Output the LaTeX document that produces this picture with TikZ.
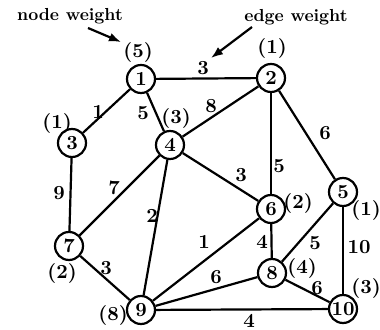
\documentclass[tikz,border=0pt]{standalone}
\usetikzlibrary{arrows.meta}
\begin{document}
\begin{tikzpicture}[x=0.5pt,y=-0.5pt,
  vtx/.style={draw,circle,line width=1.1pt,minimum size=14pt,inner sep=0pt,font=\bfseries},
  wt/.style={font=\bfseries,inner sep=0pt},
  nwt/.style={font=\bfseries,inner sep=0pt},
  captxt/.style={font=\bfseries,inner sep=0pt,scale=0.87},
  edg/.style={line width=1.1pt}]
\useasboundingbox (0,0) rectangle (380,330);
% nodes
\node[vtx] (n1) at (141,79) {1};
\node[vtx] (n2) at (271,78) {2};
\node[vtx] (n3) at (72,143) {3};
\node[vtx] (n4) at (170,145) {4};
\node[vtx] (n5) at (343,192) {5};
\node[vtx] (n6) at (271,209) {6};
\node[vtx] (n7) at (69,246) {7};
\node[vtx] (n8) at (272,273) {8};
\node[vtx] (n9) at (141,310) {9};
\node[vtx] (n10) at (343,309) {10};
% node weights
\node[nwt] (p1) at (138,52) {(5)};
\node[nwt] (p2) at (272,48) {(1)};
\node[nwt] (p3) at (57,123) {(1)};
\node[nwt] (p4) at (176,118) {(3)};
\node[nwt] (p5) at (366,210) {(1)};
\node[nwt] (p6) at (298,203) {(2)};
\node[nwt] (p7) at (62,273) {(2)};
\node[nwt] (p8) at (302,268) {(4)};
\node[nwt] (p9) at (113,315) {(8)};
\node[nwt] (p10) at (366,288) {(3)};
% edges
\draw[edg] (n1) -- (n2);
\draw[edg] (n1) -- (n3);
\draw[edg] (n1) -- (n4);
\draw[edg] (n2) -- (n4);
\draw[edg] (n2) -- (n5);
\draw[edg] (n2) -- (n6);
\draw[edg] (n3) -- (n7);
\draw[edg] (n4) -- (n7);
\draw[edg] (n4) -- (n9);
\draw[edg] (n4) -- (n6);
\draw[edg] (n7) -- (n9);
\draw[edg] (n9) -- (n6);
\draw[edg] (n9) -- (n8);
\draw[edg] (n6) -- (n8);
\draw[edg] (n5) -- (n8);
\draw[edg] (n5) -- (n10);
\draw[edg] (n8) -- (n10);
\draw[edg] (n9) -- (n10);
% edge weights
\node[wt] (w12) at (203,68) {3};
\node[wt] (w13) at (98,112) {1};
\node[wt] (w14) at (143,113) {5};
\node[wt] (w24) at (211,106) {8};
\node[wt] (w25) at (325,133) {6};
\node[wt] (w26) at (279,166) {5};
\node[wt] (w37) at (59,193) {9};
\node[wt] (w47) at (114,188) {7};
\node[wt] (w49) at (152,216) {2};
\node[wt] (w46) at (241,175) {3};
\node[wt] (w79) at (106,268) {3};
\node[wt] (w96) at (204,242) {1};
\node[wt] (w98) at (216,277) {6};
\node[wt] (w68) at (262,242) {4};
\node[wt] (w58) at (315,243) {5};
\node[wt] (w510) at (359,247) {10};
\node[wt] (w810) at (317,288) {6};
\node[wt] (w910) at (249,321) {4};
% captions
\node[captxt] (nw) at (70,16) {node weight};
\node[captxt] (ew) at (296,17) {edge weight};
\coordinate (nwtip) at (121,42);
\coordinate (ewtip) at (211,58);
\draw[edg,-{Latex[length=6pt,width=4.5pt]}] (88,28) -- (nwtip);
\draw[edg,-{Latex[length=6pt,width=4.5pt]}] (252,27) -- (ewtip);
\end{tikzpicture}
\end{document}
